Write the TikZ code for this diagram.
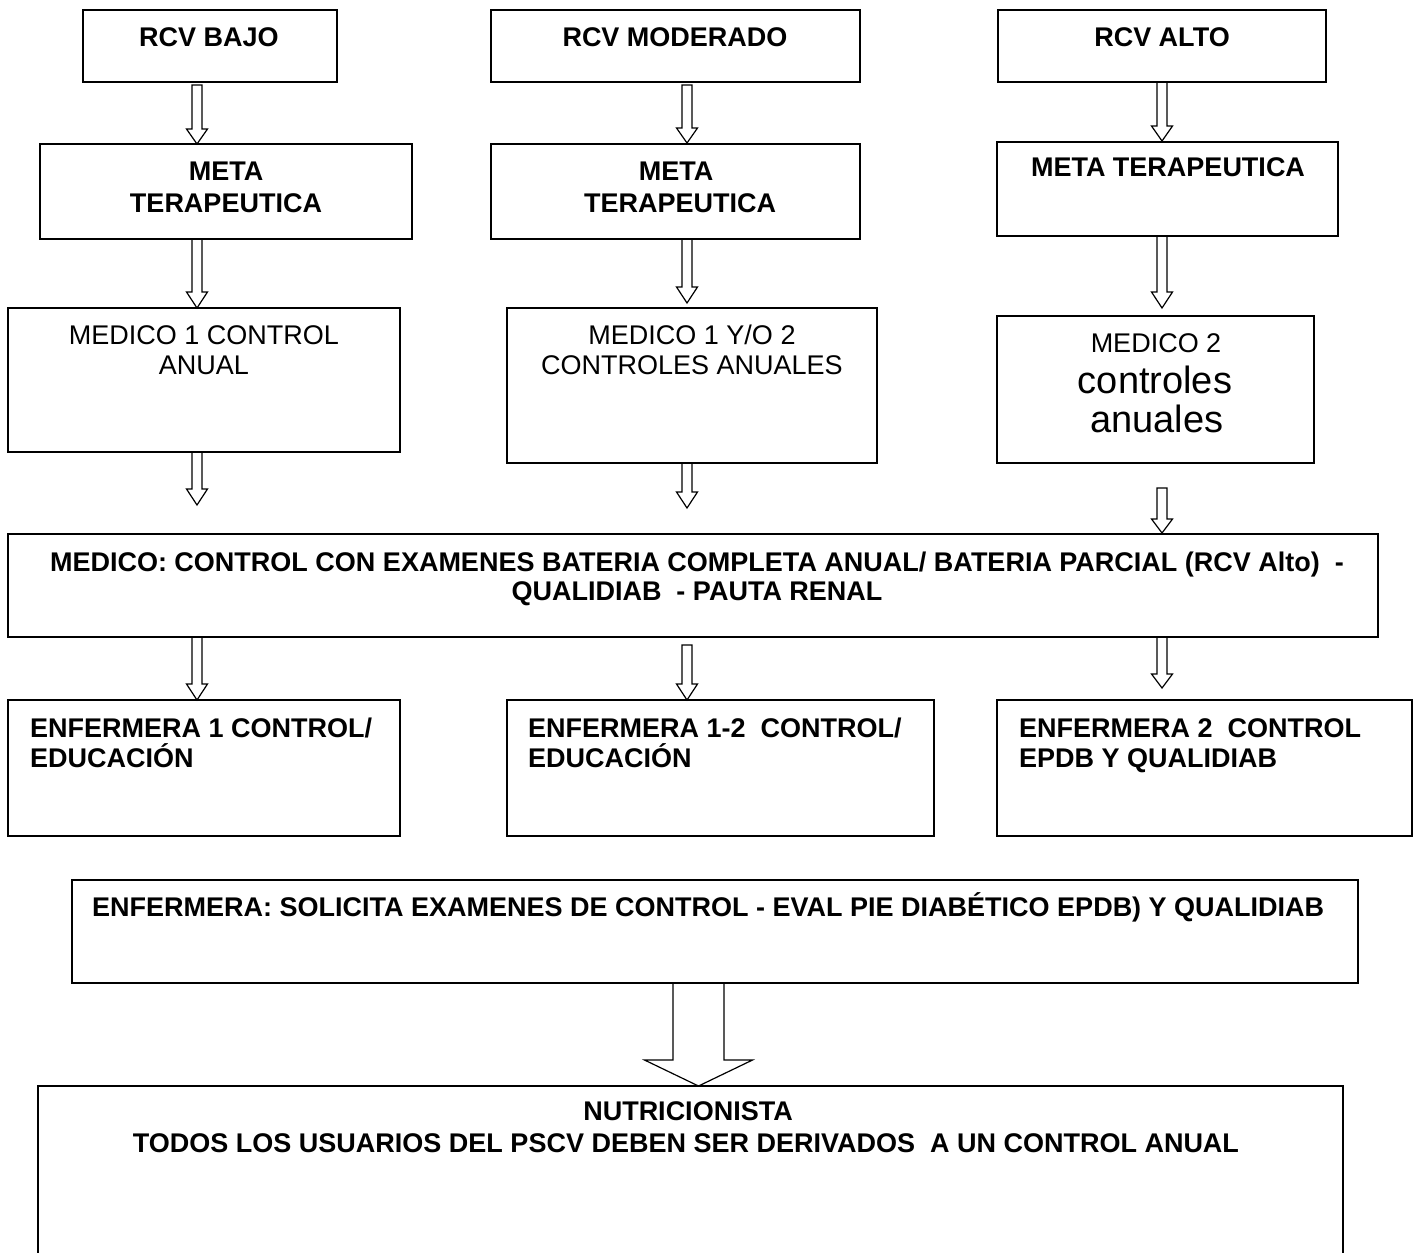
\documentclass[tikz,border=0pt]{standalone}
\usepackage{fontspec}
\setmainfont{Liberation Sans}
\usetikzlibrary{calc}

\tikzset{
  box/.style={draw, line width=1.8pt, rectangle, inner sep=0pt, outer sep=0pt, anchor=north west},
  txt/.style={anchor=base, inner sep=0pt, font=\fontsize{27}{31}\selectfont},
  btxt/.style={txt, font=\fontsize{27}{31}\selectfont\bfseries},
  bltxt/.style={btxt, anchor=base west},
  bigtxt/.style={anchor=base, inner sep=0pt, font=\fontsize{38}{43}\selectfont},
  arrowline/.style={draw, line width=1.2pt, line join=miter},
}

% hollow block arrow: shaft half-width, head half-width, head length, start, tip
\newcommand\blockarrow[5]{%
  \draw[arrowline] let \p1=#4, \p2=#5 in
    (\x1-#1,\y1) -- (\x1-#1,\y2+#3) -- (\x1-#2,\y2+#3) -- (\x1,\y2)
    -- (\x1+#2,\y2+#3) -- (\x1+#1,\y2+#3) -- (\x1+#1,\y1) -- cycle;}

\begin{document}
\begin{tikzpicture}[x=1pt,y=-1pt]
\useasboundingbox (0,0) rectangle (1420,1252);
\clip (0,0) rectangle (1420,1252);
\fill[white] (0,0) rectangle (1420,1252);

% arrow columns
\coordinate (c1) at (197,0);
\coordinate (c2) at (687,0);
\coordinate (c3) at (1162,0);
\coordinate (c4) at (698.5,0);

% risk level
\node[box, minimum width=254pt, minimum height=72pt] (bajo) at (83,10) {};
\node[box, minimum width=369pt, minimum height=72pt] (mod) at (491,10) {};
\node[box, minimum width=328pt, minimum height=72pt] (alto) at (998,10) {};
\node[btxt] (tbajo) at (209,46.5) {RCV BAJO};
\node[btxt] (tmod) at (675,46.5) {RCV MODERADO};
\node[btxt] (talto) at (1162,46.5) {RCV ALTO};

% therapeutic goal
\node[box, minimum width=372pt, minimum height=95pt] (meta1) at (40,144) {};
\node[box, minimum width=369pt, minimum height=95pt] (meta2) at (491,144) {};
\node[box, minimum width=341pt, minimum height=94pt] (meta3) at (997,142) {};
\node[btxt] (tmeta1a) at (226,180) {META};
\node[btxt] (tmeta1b) at (226,212) {TERAPEUTICA};
\node[btxt] (tmeta2a) at (676,180) {META};
\node[btxt] (tmeta2b) at (680,212) {TERAPEUTICA};
\node[btxt] (tmeta3) at (1168,177) {META TERAPEUTICA};

% physician visits
\node[box, minimum width=392pt, minimum height=144pt] (med1) at (8,308) {};
\node[box, minimum width=370pt, minimum height=155pt] (med2) at (507,308) {};
\node[box, minimum width=317pt, minimum height=147pt] (med3) at (997,316) {};
\node[txt] (tmed1a) at (204,344) {MEDICO 1 CONTROL};
\node[txt] (tmed1b) at (204,374) {ANUAL};
\node[txt] (tmed2a) at (692,344) {MEDICO 1 Y/O 2};
\node[txt] (tmed2b) at (692,374) {CONTROLES ANUALES};
\node[txt] (tmed3a) at (1156,352) {MEDICO 2};
\node[bigtxt] (tmed3b) at (1155,393) {controles};
\node[bigtxt] (tmed3c) at (1157,432) {anuales};

% annual exams
\node[box, minimum width=1370pt, minimum height=103pt] (big) at (8,534) {};
\node[btxt] (tbiga) at (697,571) {MEDICO: CONTROL CON EXAMENES BATERIA COMPLETA ANUAL/ BATERIA PARCIAL (RCV Alto)\ \ -};
\node[btxt] (tbigb) at (697,600) {QUALIDIAB\ \ - PAUTA RENAL};

% nurse visits
\node[box, minimum width=392pt, minimum height=136pt] (enf1) at (8,700) {};
\node[box, minimum width=427pt, minimum height=136pt] (enf2) at (507,700) {};
\node[box, minimum width=415pt, minimum height=136pt] (enf3) at (997,700) {};
\node[bltxt] (tenf1a) at (30,737) {ENFERMERA 1 CONTROL/};
\node[bltxt] (tenf1b) at (30,767) {EDUCACIÓN};
\node[bltxt] (tenf2a) at (528,737) {ENFERMERA 1-2\ \ CONTROL/};
\node[bltxt] (tenf2b) at (528,767) {EDUCACIÓN};
\node[bltxt] (tenf3a) at (1019,737) {ENFERMERA 2\ \ CONTROL};
\node[bltxt] (tenf3b) at (1019,767) {EPDB Y QUALIDIAB};

% nurse requests
\node[box, minimum width=1286pt, minimum height=103pt] (enfall) at (72,880) {};
\node[bltxt] (tenfall) at (92,916) {ENFERMERA: SOLICITA EXAMENES DE CONTROL - EVAL PIE DIABÉTICO EPDB) Y QUALIDIAB};

% nutritionist
\node[box, minimum width=1305pt, minimum height=200pt] (nutri) at (38,1086) {};
\node[btxt] (tnutria) at (688,1120) {NUTRICIONISTA};
\node[btxt] (tnutrib) at (686,1152) {TODOS LOS USUARIOS DEL PSCV DEBEN SER DERIVADOS\ \ A UN CONTROL ANUAL};

% connectors
\blockarrow{5pt}{10.5pt}{15pt}{($(c1|-bajo.south)+(0,3)$)}{(c1|-meta1.north)}
\blockarrow{5pt}{10.5pt}{15pt}{($(c2|-mod.south)+(0,3)$)}{($(c2|-meta2.north)+(0,-1)$)}
\blockarrow{5pt}{10.5pt}{15pt}{(c3|-alto.south)}{($(c3|-meta3.north)+(0,-1)$)}
\blockarrow{5pt}{10.5pt}{16pt}{(c1|-meta1.south)}{(c1|-med1.north)}
\blockarrow{5pt}{10.5pt}{16pt}{(c2|-meta2.south)}{($(c2|-med2.north)+(0,-5)$)}
\blockarrow{5pt}{10.5pt}{16pt}{(c3|-meta3.south)}{($(c3|-med3.north)+(0,-8)$)}
\blockarrow{5pt}{10.5pt}{16pt}{(c1|-med1.south)}{($(c1|-big.north)+(0,-29)$)}
\blockarrow{5pt}{10.5pt}{16pt}{(c2|-med2.south)}{($(c2|-big.north)+(0,-26)$)}
\blockarrow{5pt}{10.5pt}{14pt}{($(c3|-med3.south)+(0,25)$)}{($(c3|-big.north)+(0,-1)$)}
\blockarrow{5pt}{10.5pt}{16pt}{(c1|-big.south)}{(c1|-enf1.north)}
\blockarrow{5pt}{10.5pt}{16pt}{($(c2|-big.south)+(0,8)$)}{(c2|-enf2.north)}
\blockarrow{5pt}{10.5pt}{14pt}{(c3|-big.south)}{($(c3|-enf3.north)+(0,-12)$)}
\blockarrow{25.5pt}{54pt}{26pt}{(c4|-enfall.south)}{(c4|-nutri.north)}
\end{tikzpicture}
\end{document}
